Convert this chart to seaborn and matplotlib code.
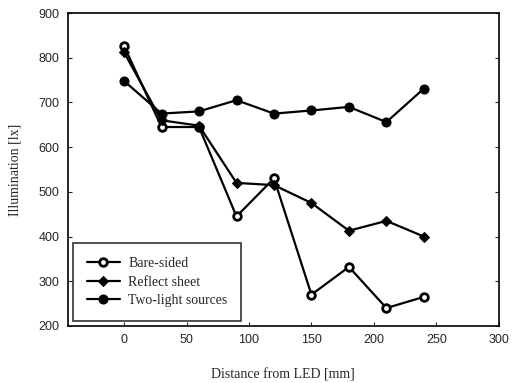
import matplotlib
matplotlib.use("Agg")
import matplotlib.pyplot as plt
import seaborn as sns
import pandas as pd

distance = [0, 30, 60, 90, 120, 150, 180, 210, 240]
bare_sided = [826, 645, 645, 445, 530, 270, 332, 240, 265]
reflect_sheet = [812, 660, 648, 520, 515, 475, 413, 435, 400]
two_light = [748, 675, 680, 705, 675, 682, 690, 656, 731]
series_names = ["Bare-sided", "Reflect sheet", "Two-light sources"]
x_ticks = [0, 50, 100, 150, 200, 250, 300]
y_ticks = [200, 300, 400, 500, 600, 700, 800, 900]

sns.set_style("ticks")
df = pd.DataFrame({
    "Distance": distance * 3,
    "Illumination": bare_sided + reflect_sheet + two_light,
    "Series": [series_names[0]] * 9 + [series_names[1]] * 9 + [series_names[2]] * 9,
})

fig = plt.figure(figsize=(5.18, 3.83), dpi=100)
ax = fig.add_axes([0.131, 0.149, 0.832, 0.817])

styles = {
    "Bare-sided": dict(marker="o", mfc="white", mec="black", ms=5.5, mew=2.0),
    "Reflect sheet": dict(marker="D", mfc="black", mec="black", ms=5.5),
    "Two-light sources": dict(marker="o", mfc="black", mec="black", ms=6.5),
}
for name in series_names:
    sub = df[df["Series"] == name]
    sns.lineplot(data=sub, x="Distance", y="Illumination", ax=ax, color="black",
                 lw=1.6, label=name, **styles[name])

ax.set_xlim(-45, 300)
ax.set_ylim(200, 900)
ax.set_xticks(x_ticks)
ax.set_yticks(y_ticks)
ax.tick_params(direction="in", length=3, labelsize=9, right=True, pad=6)
for lab in ax.get_xticklabels() + ax.get_yticklabels():
    lab.set_family("Liberation Sans")
for s in ax.spines.values():
    s.set_visible(True)
    s.set_color("black")
    s.set_linewidth(1.2)
ax.set_xlabel("Distance from LED [mm]", family="Liberation Serif", fontsize=10, labelpad=16)
ax.set_ylabel("Illumination [lx]", family="Liberation Serif", fontsize=10, labelpad=12)

leg = ax.legend(loc="lower left", bbox_to_anchor=(0.0, 0.0), borderaxespad=0.35,
                prop={"family": "Liberation Serif", "size": 10},
                frameon=True, fancybox=False, edgecolor="black", handlelength=2.4,
                borderpad=1.0, labelspacing=0.4, handletextpad=0.6)
leg.get_frame().set_linewidth(1.2)

fig.savefig("out.png", dpi=100)
